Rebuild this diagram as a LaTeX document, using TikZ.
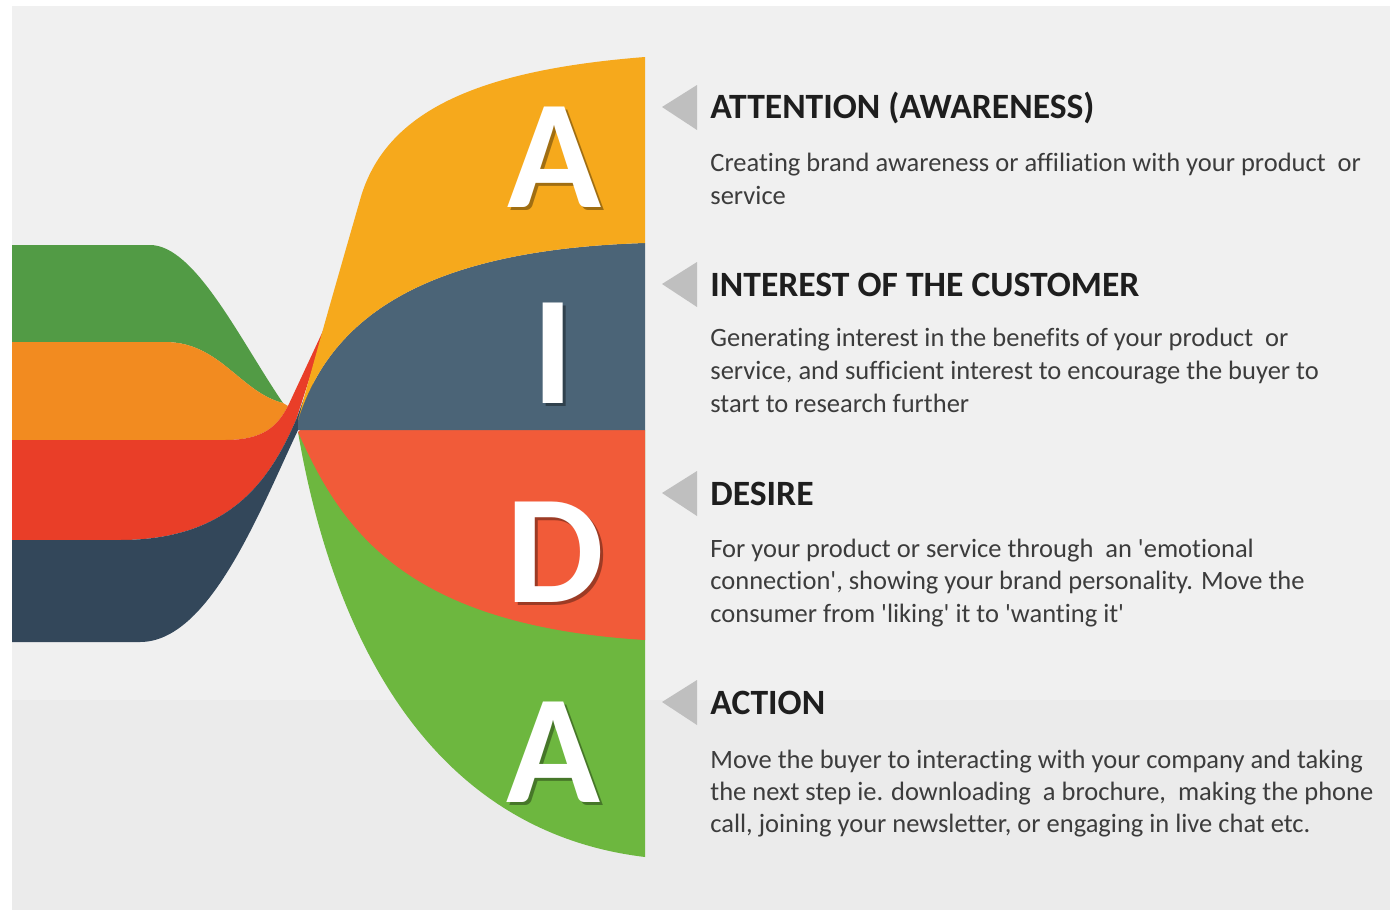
\documentclass[tikz,border=0pt]{standalone}
\usepackage{fontspec}
\setmainfont{Carlito}[Ligatures={NoCommon}]
\definecolor{lgreen}{HTML}{529B45}
\definecolor{lorange}{HTML}{F28B20}
\definecolor{lred}{HTML}{E93E28}
\definecolor{lnavy}{HTML}{33475A}
\definecolor{ryellow}{HTML}{F6A91C}
\definecolor{rslate}{HTML}{4B6477}
\definecolor{rred}{HTML}{F15B39}
\definecolor{rgreen}{HTML}{6DB73F}
\definecolor{bgtop}{HTML}{F0F0F0}
\definecolor{bgbot}{HTML}{EBEBEB}
\definecolor{tri}{HTML}{BFBFBF}
\definecolor{headc}{HTML}{1E1E1E}
\definecolor{bodyc}{HTML}{3C3C3C}
\newcommand{\sq}{\textquotesingle}
\begin{document}
\begin{tikzpicture}[x=0.5pt,y=-0.5pt,
  letter/.style={anchor=base,inner sep=0pt,text=white,font=\fontsize{77.5}{80}\selectfont\bfseries},
  lettershadow/.style={anchor=base,inner sep=0pt,text=black,opacity=0.35,font=\fontsize{77.5}{80}\selectfont\bfseries},
  head/.style={anchor=base west,inner sep=0pt,text=headc,font=\fontsize{17.8}{21}\selectfont\bfseries},
  body/.style={anchor=base west,inner sep=0pt,text=bodyc,font=\fontsize{13.25}{15}\selectfont},
  pointer/.style={fill=tri}]
\useasboundingbox (0,0) rectangle (1390,910);
\fill[white] (0,0) rectangle (1390,910);
\fill[bgtop] (12,6) rectangle (1390,700);
\fill[bgbot] (12,700) rectangle (1390,910);
% left ribbons
\fill[lgreen] (12,245) -- (150,245) .. controls (195,245) and (240,340) .. (283,403)
  .. controls (240,392) and (220,342) .. (165,342) -- (12,342) -- cycle;
\fill[lorange] (12,342) -- (165,342) .. controls (220,342) and (240,392) .. (283,403)
  -- (288,406) .. controls (278,425) and (265,440) .. (225,440) -- (12,440) -- cycle;
\fill[lred] (12,440) -- (225,440) .. controls (265,440) and (278,425) .. (288,406)
  -- (329,318) -- (296,420) .. controls (270,480) and (230,540) .. (120,540) -- (12,540) -- cycle;
\fill[lnavy] (12,540) -- (120,540) .. controls (230,540) and (270,480) .. (296,420)
  -- (333,320) -- (299,428) .. controls (260,510) and (210,642) .. (140,642) -- (12,642) -- cycle;
% right fan
\fill[rgreen] (298,432) .. controls (330,620) and (420,830) .. (645,857) -- (645,430) -- cycle;
\fill[rred] (298,432) .. controls (340,525) and (400,625) .. (645,640) -- (645,430) -- (300,430) -- cycle;
\fill[rslate] (298,420) .. controls (330,320) and (420,250) .. (645,243) -- (645,430) -- (298,430) -- cycle;
\fill[ryellow] (298,420) .. controls (318,345) and (350,235) .. (360,200)
  .. controls (385,110) and (480,70) .. (645,57) -- (645,243)
  .. controls (420,250) and (330,320) .. (298,420) -- cycle;
% letters
\node[lettershadow] (sA1) at (557,210) {A};
\node[letter] (A1) at (554,207) {A};
\node[lettershadow] (sI) at (556,406) {I};
\node[letter] (I) at (553,403) {I};
\node[lettershadow] (sD) at (558,605) {D};
\node[letter] (D) at (555,602) {D};
\node[lettershadow] (sA2) at (556,805) {A};
\node[letter] (A2) at (553,802) {A};
% pointers
\fill[pointer] (662,107) -- (697,85) -- (697,130) -- cycle;
\fill[pointer] (662,284) -- (697,262) -- (697,307) -- cycle;
\fill[pointer] (662,493) -- (697,471) -- (697,516) -- cycle;
\fill[pointer] (662,702) -- (697,680) -- (697,725) -- cycle;
% texts
\node[head] (h1) at (710,118) {ATTENTION (AWARENESS)};
\node[body] (b1a) at (710,171) {Creating brand awareness or affiliation with your product \ or};
\node[body] (b1b) at (710,204) {service};
\node[head] (h2) at (710,296) {INTEREST OF THE CUSTOMER};
\node[body] (b2a) at (710,346) {Generating interest in the benefits of your product \ or};
\node[body] (b2b) at (710,379) {service, and sufficient interest to encourage the buyer to};
\node[body] (b2c) at (710,412) {start to research further};
\node[head] (h3) at (710,505) {DESIRE};
\node[body] (b3a) at (710,557) {For your product or service through \ an \sq emotional};
\node[body] (b3b) at (710,589) {connection\sq, showing your brand personality. Move the};
\node[body] (b3c) at (710,622) {consumer from \sq liking\sq{} it to \sq wanting it\sq};
\node[head] (h4) at (710,714) {ACTION};
\node[body] (b4a) at (710,768) {Move the buyer to interacting with your company and taking};
\node[body] (b4b) at (710,800) {the next step ie. downloading \ a brochure, \ making the phone};
\node[body] (b4c) at (710,832) {call, joining your newsletter, or engaging in live chat etc.};
\end{tikzpicture}
\end{document}
